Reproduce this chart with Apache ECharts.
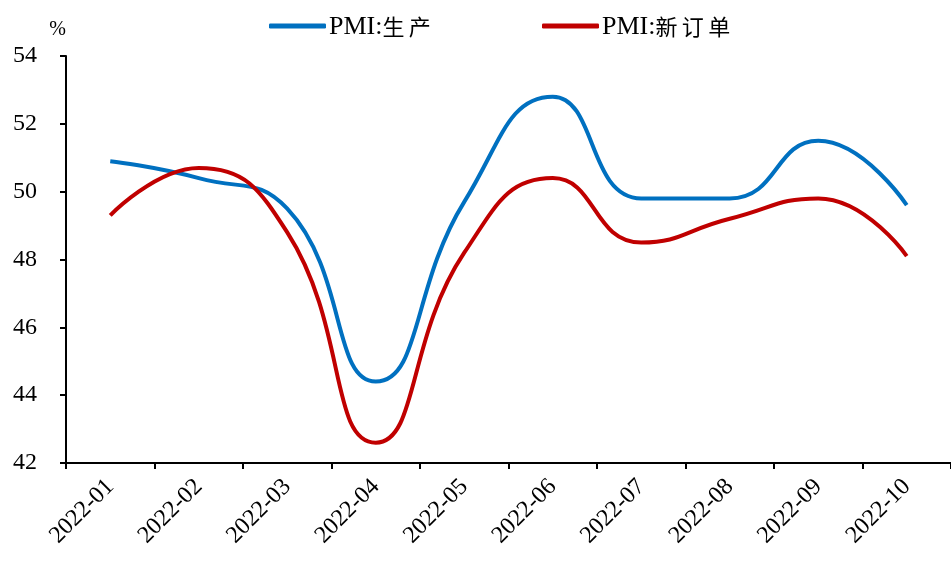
<!DOCTYPE html>
<html><head><meta charset="utf-8">
<script src="https://cdn.jsdelivr.net/npm/echarts@6/dist/echarts.min.js"></script>
<style>html,body{margin:0;padding:0;background:#fff}#c{width:951px;height:563px}</style>
</head><body><div id="c"></div>
<script>
var categories = ['2022-01','2022-02','2022-03','2022-04','2022-05','2022-06','2022-07','2022-08','2022-09','2022-10'];
var production = [50.9, 50.4, 49.5, 44.4, 49.7, 52.8, 49.8, 49.8, 51.5, 49.6];
var newOrders = [49.3, 50.7, 48.8, 42.6, 48.2, 50.4, 48.5, 49.2, 49.8, 48.1];
var seriesNames = ['PMI:生产', 'PMI:新订单'];
var yTicks = {min: 42, max: 54, interval: 2};

var font = '"Times New Roman","Liberation Serif","Noto Sans CJK SC",serif';
var cjk = '"Noto Sans CJK SC",sans-serif';
function legendFmt(name) {
  var i = name.indexOf(':') + 1;
  return '{a|' + name.slice(0, i) + '}{b|' + name.slice(i).split('').join('\u2009') + '}';
}
var legendText = {
  fontFamily: font, fontSize: 26, color: '#000', padding: [2, 0, 0, -2],
  rich: {a: {fontFamily: font, fontSize: 26, color: '#000'},
         b: {fontFamily: cjk, fontSize: 22, color: '#000'}}
};
var chart = echarts.init(document.getElementById('c'));
chart.setOption({
  animation: false,
  backgroundColor: '#fff',
  grid: {left: 66, top: 56, width: 892, height: 407, containLabel: false},
  legend: [
    {top: 9, left: 264, itemWidth: 57, itemHeight: 5, icon: 'roundRect',
     formatter: legendFmt, textStyle: legendText, data: [seriesNames[0]]},
    {top: 9, left: 537, itemWidth: 57, itemHeight: 5, icon: 'roundRect',
     formatter: legendFmt, textStyle: legendText, data: [seriesNames[1]]}
  ],
  xAxis: {
    type: 'category', data: categories, boundaryGap: true,
    axisLine: {lineStyle: {color: '#000', width: 2}},
    axisTick: {show: true, length: 6, lineStyle: {color: '#000', width: 2}},
    axisLabel: {rotate: 45, fontFamily: font, fontSize: 24, color: '#000', margin: 20}
  },
  yAxis: {
    type: 'value', min: yTicks.min, max: yTicks.max, interval: yTicks.interval,
    name: '%', nameLocation: 'end', nameGap: 16,
    nameTextStyle: {fontFamily: font, fontSize: 20, color: '#000', align: 'right', padding: [0, 0, 0, 0]},
    splitLine: {show: false},
    axisLine: {show: true, lineStyle: {color: '#000', width: 2}},
    axisTick: {show: true, length: 6, lineStyle: {color: '#000', width: 2}},
    axisLabel: {fontFamily: font, fontSize: 24, color: '#000', margin: 29}
  },
  series: [
    {name: seriesNames[0], type: 'line', data: production, smooth: 0.5, showSymbol: false,
     itemStyle: {color: '#0070C0'}, lineStyle: {color: '#0070C0', width: 4}},
    {name: seriesNames[1], type: 'line', data: newOrders, smooth: 0.5, showSymbol: false,
     itemStyle: {color: '#C00000'}, lineStyle: {color: '#C00000', width: 4}}
  ]
});
</script></body></html>
